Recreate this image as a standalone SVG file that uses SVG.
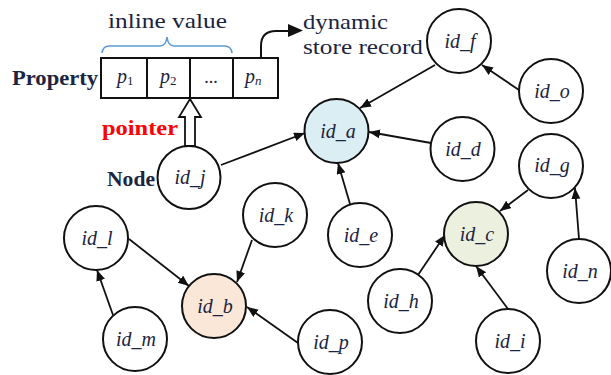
<svg xmlns="http://www.w3.org/2000/svg" width="611" height="375" viewBox="0 0 611 375">
<style>
.n circle{fill:#fff;stroke:#111;stroke-width:2}
.n text{font-family:'Liberation Serif','Times New Roman',Times,serif;font-style:italic;font-size:20px;fill:#1b2440;text-anchor:middle}
.e line{stroke:#111;stroke-width:1.8;marker-end:url(#ah)}
.lbl{font-family:'Liberation Serif','Times New Roman',Times,serif;fill:#1b2440}
.red{font-family:'Liberation Serif','Times New Roman',Times,serif;fill:#ff0000;font-weight:bold}
.cell{fill:#fff;stroke:#111;stroke-width:2}
</style>
<defs>
<marker id="ah" markerUnits="userSpaceOnUse" markerWidth="12" markerHeight="10" refX="11" refY="4.5" orient="auto">
<path d="M0,0 L11,4.5 L0,9 z" fill="#111"/>
</marker>
</defs>

<g id="record">
<path d="M102,53 Q103,46 109,46 L160,46 Q166,46 167,37 Q168,46 174,46 L225,46 Q231,46 232,53" fill="none" stroke="#5b9bd5" stroke-width="1.6"/>
<text class="lbl" x="108" y="28" font-size="21" textLength="119" lengthAdjust="spacingAndGlyphs">inline value</text>
<rect class="cell" x="101" y="58" width="46" height="40"/>
<rect class="cell" x="147" y="58" width="43" height="40"/>
<rect class="cell" x="190" y="58" width="43" height="40"/>
<rect class="cell" x="233" y="58" width="45" height="40"/>
<text class="lbl" x="117" y="83" font-size="20"><tspan font-style="italic">p</tspan><tspan font-size="13" dy="2">1</tspan></text>
<text class="lbl" x="160" y="83" font-size="20"><tspan font-style="italic">p</tspan><tspan font-size="13" dy="2">2</tspan></text>
<text class="lbl" x="211" y="83" font-size="18" text-anchor="middle">...</text>
<text class="lbl" x="245" y="83" font-size="20"><tspan font-style="italic">p</tspan><tspan font-size="13" font-style="italic" dy="2">n</tspan></text>
<text class="lbl" x="12" y="85" font-size="22" font-weight="bold" textLength="86" lengthAdjust="spacingAndGlyphs">Property</text>
<path d="M261,58 L261,46 Q261,31 276,31 L290,31" fill="none" stroke="#111" stroke-width="2"/>
<path d="M288,24 L303,30.5 L288,37 z" fill="#111"/>
<text class="lbl" x="303" y="29" font-size="21" textLength="85" lengthAdjust="spacingAndGlyphs">dynamic</text>
<text class="lbl" x="303" y="54" font-size="21" textLength="120" lengthAdjust="spacingAndGlyphs">store record</text>
</g>

<g id="pointer">
<path d="M190,99 L201,117 L195,117 L195,146 L185,146 L185,117 L179,117 z" fill="#fff" stroke="#111" stroke-width="1.8"/>
<text class="red" x="102" y="135" font-size="22" textLength="76" lengthAdjust="spacingAndGlyphs">pointer</text>
<text class="lbl" x="107" y="186" font-size="22" font-weight="bold" textLength="48" lengthAdjust="spacingAndGlyphs">Node</text>
</g>

<g id="edges" class="e">
<line x1="435" y1="65" x2="360" y2="108"/>
<line x1="519" y1="90" x2="482" y2="65"/>
<line x1="431" y1="143" x2="369" y2="132"/>
<line x1="221" y1="165" x2="305" y2="133"/>
<line x1="350" y1="204" x2="338" y2="163"/>
<line x1="528" y1="190" x2="500" y2="211"/>
<line x1="579" y1="239" x2="575" y2="188"/>
<line x1="418" y1="275" x2="445" y2="235"/>
<line x1="508" y1="309" x2="476" y2="266"/>
<line x1="129" y1="239" x2="189" y2="286"/>
<line x1="113" y1="315" x2="97" y2="270"/>
<line x1="252" y1="240" x2="237" y2="282"/>
<line x1="298" y1="343" x2="247" y2="307"/>
</g>

<g id="id_a" class="n"><circle cx="336.5" cy="131" r="32" style="fill:#dbeef4"/><text x="338" y="138">id_a</text></g>
<g id="id_b" class="n"><circle cx="214" cy="306" r="32" style="fill:#fbe7d8"/><text x="215" y="313">id_b</text></g>
<g id="id_c" class="n"><circle cx="476" cy="234" r="32" style="fill:#ebf1de"/><text x="477" y="241">id_c</text></g>
<g id="id_d" class="n"><circle cx="462.5" cy="149" r="32"/><text x="463" y="156">id_d</text></g>
<g id="id_e" class="n"><circle cx="360" cy="235" r="32"/><text x="361" y="242">id_e</text></g>
<g id="id_f" class="n"><circle cx="459" cy="41" r="32"/><text x="460" y="48">id_f</text></g>
<g id="id_g" class="n"><circle cx="551" cy="166" r="32"/><text x="552" y="172">id_g</text></g>
<g id="id_h" class="n"><circle cx="400" cy="301" r="32"/><text x="401" y="308">id_h</text></g>
<g id="id_i" class="n"><circle cx="508" cy="341" r="32"/><text x="510" y="348">id_i</text></g>
<g id="id_j" class="n"><circle cx="189" cy="177.5" r="31.5"/><text x="190" y="184">id_j</text></g>
<g id="id_k" class="n"><circle cx="275" cy="215" r="32"/><text x="276" y="222">id_k</text></g>
<g id="id_l" class="n"><circle cx="96" cy="238" r="32"/><text x="97" y="245">id_l</text></g>
<g id="id_m" class="n"><circle cx="135" cy="339" r="32"/><text x="136" y="346">id_m</text></g>
<g id="id_n" class="n"><circle cx="579" cy="271" r="32"/><text x="580" y="278">id_n</text></g>
<g id="id_o" class="n"><circle cx="551" cy="91" r="32"/><text x="552" y="98">id_o</text></g>
<g id="id_p" class="n"><circle cx="330" cy="342" r="32"/><text x="331" y="349">id_p</text></g>
</svg>
